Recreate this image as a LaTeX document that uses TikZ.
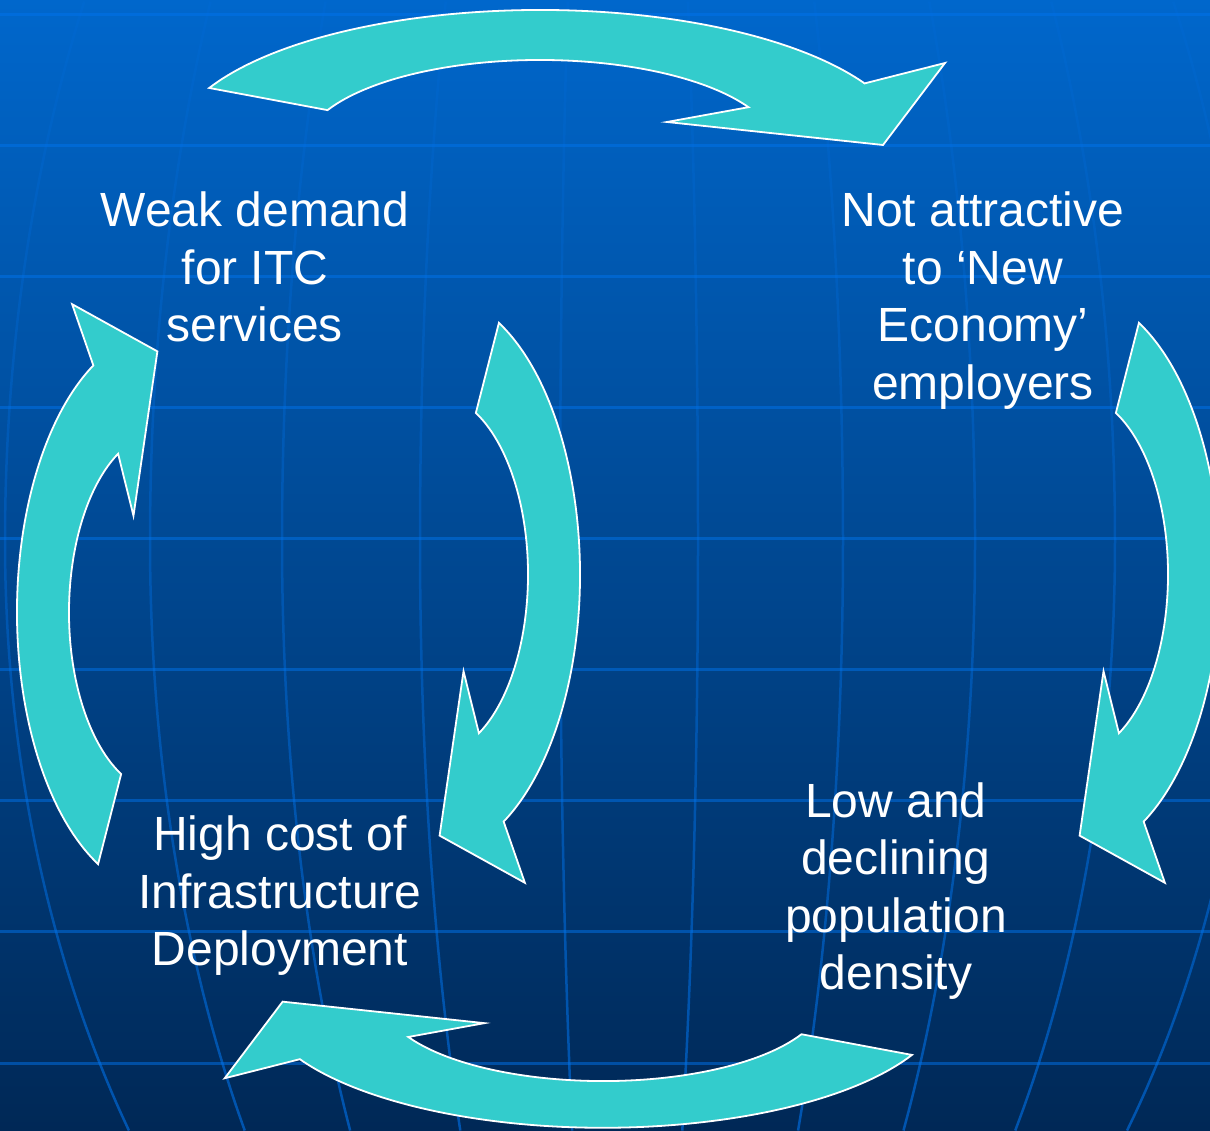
\documentclass[tikz,border=0pt]{standalone}
\usepackage{fontspec}
\setmainfont{Liberation Sans}
\usetikzlibrary{fadings}
\definecolor{turq}{RGB}{51,204,204}
\definecolor{bgtop}{RGB}{0,103,204}
\definecolor{bgmid}{RGB}{0,78,158}
\definecolor{bgbot}{RGB}{0,40,86}
\definecolor{gridblue}{RGB}{0,115,235}
% meridians fade out towards the top of the globe
\tikzfading[name=meridfade, top color=transparent!88, middle color=transparent!75, bottom color=transparent!40]
\tikzset{
  cycarrow/.style={fill=turq, draw=white, line width=1.8pt, line join=miter},
  gridline/.style={draw=gridblue, draw opacity=0.5, line width=3pt},
  meridian/.style={draw=gridblue, line width=2.5pt, path fading=meridfade},
  cyctext/.style={text=white, font=\fontsize{48}{57.5}\selectfont, align=center, inner sep=0pt, anchor=base},
  % curved block arrow: two concentric elliptic arcs and a five-point head
  pics/cyclearrow/.style={code={
    \draw[cycarrow] (153.7:369pt and 140pt)
      arc[start angle=153.7, end angle=28.4, x radius=369pt, y radius=140pt]
      -- (405,87) -- (343,5) -- (127,28) -- (28.4:237pt and 90pt)
      arc[start angle=28.4, end angle=153.7, x radius=237pt, y radius=90pt]
      -- cycle;
  }}
}
\begin{document}
\begin{tikzpicture}[x=1pt, y=1pt]
\useasboundingbox (0,0) rectangle (1210,1130);
\clip (0,0) rectangle (1210,1130);
% background
\shade[top color=bgtop, middle color=bgmid, bottom color=bgbot] (0,0) rectangle (1210,1130);
% globe grid: parallels
\foreach \yy in {15,146,...,1063}
  \draw[gridline] (0,1130-\yy) -- (1210,1130-\yy);
% globe grid: meridians
\foreach \m in {5,150,282,420,560,698,843,975,1115,1255} {
  \draw[meridian]
    plot[variable=\t, domain=0:540, samples=30, smooth]
      ({620+(\m-620)*sqrt(1-((\t-540)/1100)^2)}, {1130-\t})
    -- plot[variable=\t, domain=540:1130, samples=30, smooth]
      ({620+(\m-620)*sqrt(1-((\t-540)/980)^2)}, {1130-\t});
}
% the five curved arrows
\pic (toparrow) at (540,980) {cyclearrow};
\pic[rotate=180, scale=0.934] (botarrow) at (603,133) {cyclearrow};
\pic[rotate=-90, xscale=0.761, yscale=1.04] (midarrow) at (434.4,555.4) {cyclearrow};
\pic[rotate=-90, xscale=0.761, yscale=1.04] (rightarrow) at (1074.4,555.4) {cyclearrow};
\pic[rotate=90, xscale=0.761, yscale=1.04] (leftarrow) at (162.6,517.6) {cyclearrow};
% captions (anchored on the baseline of their last line)
\node[cyctext] (weak) at (255,788) {Weak demand\\for ITC\\services};
\node[cyctext] (attract) at (983,730.5) {Not attractive\\to ‘New\\Economy’\\employers};
\node[cyctext] (cost) at (280,164) {High cost of\\Infrastructure\\Deployment};
\node[cyctext] (density) at (896,140) {Low and\\declining\\population\\density};
\end{tikzpicture}
\end{document}
